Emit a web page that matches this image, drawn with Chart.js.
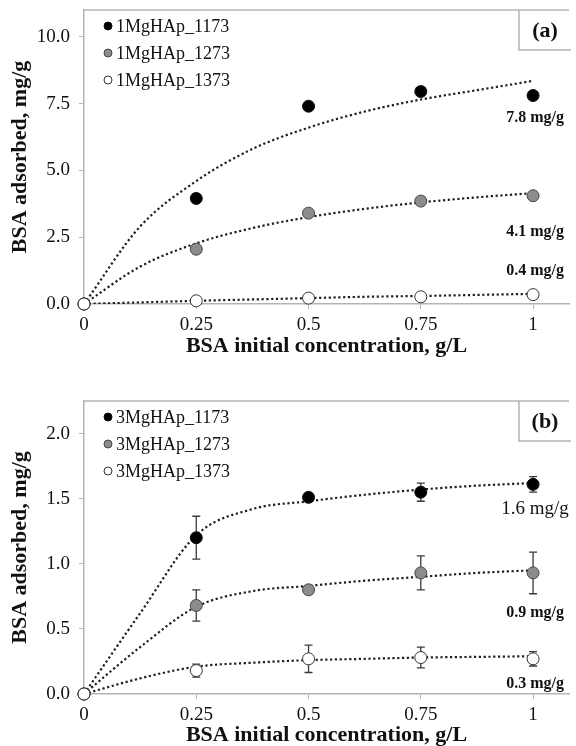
<!DOCTYPE html>
<html>
<head>
<meta charset="utf-8">
<script src="https://cdn.jsdelivr.net/npm/chart.js@4.4.0/dist/chart.umd.min.js"></script>
<style>
    html, body { margin: 0; padding: 0; background: #fff; }
    canvas { display: block; }
</style>
</head>
<body>
<canvas id="chartA" width="576" height="372"></canvas>
<canvas id="chartB" width="576" height="374"></canvas>
<script>
// shared x values
const concentrations = [0, 0.25, 0.5, 0.75, 1];
const fitConcentrations = [0, 0.125, 0.25, 0.375, 0.5, 0.625, 0.75, 0.875, 1];
const xTickValues = [0, 0.25, 0.5, 0.75, 1];

// panel (a)
const namesA = ['1MgHAp_1173', '1MgHAp_1273', '1MgHAp_1373'];
const adsorbedA1173 = [0, 3.95, 7.4, 7.95, 7.8];
const adsorbedA1273 = [0, 2.05, 3.4, 3.85, 4.05];
const adsorbedA1373 = [0, 0.12, 0.22, 0.27, 0.35];
const errorA1173 = [0, 0.15, 0, 0, 0];
const errorA1273 = [0, 0, 0, 0, 0.1];
const errorA1373 = [0, 0, 0, 0, 0];
const fitA1173 = [0, 2.9, 4.6, 5.8, 6.6, 7.2, 7.65, 8.0, 8.35];
const fitA1273 = [0, 1.4, 2.27, 2.84, 3.25, 3.56, 3.8, 3.99, 4.15];
const fitA1373 = [0, 0.06, 0.12, 0.17, 0.22, 0.27, 0.3, 0.34, 0.38];
const capacityLabelsA = ['7.8 mg/g', '4.1 mg/g', '0.4 mg/g'];
const yTicksA = [0, 2.5, 5, 7.5, 10];

// panel (b)
const namesB = ['3MgHAp_1173', '3MgHAp_1273', '3MgHAp_1373'];
const adsorbedB1173 = [0, 1.2, 1.51, 1.55, 1.61];
const adsorbedB1273 = [0, 0.68, 0.8, 0.93, 0.93];
const adsorbedB1373 = [0, 0.18, 0.27, 0.28, 0.27];
const errorB1173 = [0, 0.165, 0.03, 0.07, 0.06];
const errorB1273 = [0, 0.12, 0.03, 0.13, 0.16];
const errorB1373 = [0, 0.05, 0.105, 0.08, 0.055];
const fitB1173 = [0, 0.62, 1.22, 1.42, 1.48, 1.53, 1.57, 1.6, 1.62];
const fitB1273 = [0, 0.36, 0.67, 0.79, 0.83, 0.87, 0.9, 0.93, 0.95];
const fitB1373 = [0, 0.12, 0.21, 0.24, 0.26, 0.27, 0.28, 0.285, 0.29];
const capacityLabelsB = ['1.6 mg/g', '0.9 mg/g', '0.3 mg/g'];
const yTicksB = [0, 0.5, 1, 1.5, 2];

const SERIF = '"Liberation Serif", "Times New Roman", serif';
const AXIS_GREY = '#b4b4b4';
const markerStyles = [
    { fill: '#000000', stroke: '#111111' },
    { fill: '#8c8c8c', stroke: '#454545' },
    { fill: '#ffffff', stroke: '#333333' }
];

const toPoints = (xs, ys) => xs.map((x, i) => ({ x, y: ys[i] }));

// error bars, drawn under the markers
const errorBarPlugin = {
    id: 'errorBars',
    beforeDatasetsDraw(chart) {
        const { ctx, scales: { x, y } } = chart;
        ctx.save();
        ctx.strokeStyle = '#3a3a3a';
        ctx.lineWidth = 1.3;
        chart.data.datasets.forEach(ds => {
            if (!ds.errors) return;
            ds.data.forEach((p, i) => {
                const err = ds.errors[i];
                if (!err) return;
                const px = x.getPixelForValue(p.x);
                const top = y.getPixelForValue(p.y + err);
                const bottom = y.getPixelForValue(p.y - err);
                ctx.beginPath();
                ctx.moveTo(px, top); ctx.lineTo(px, bottom);
                ctx.moveTo(px - 4, top); ctx.lineTo(px + 4, top);
                ctx.moveTo(px - 4, bottom); ctx.lineTo(px + 4, bottom);
                ctx.stroke();
            });
        });
        ctx.restore();
    }
};

// top border, legend, panel tag and capacity notes
const decorPlugin = {
    id: 'decor',
    afterDraw(chart, args, opts) {
        const { ctx, chartArea: area, scales: { x, y } } = chart;
        ctx.save();
        ctx.strokeStyle = AXIS_GREY;
        ctx.lineWidth = 1.5;
        ctx.beginPath();
        ctx.moveTo(area.left, area.top);
        ctx.lineTo(area.right, area.top);
        ctx.stroke();

        // panel tag box
        ctx.beginPath();
        ctx.moveTo(area.right + 2, area.top + 40);
        ctx.lineTo(area.right - 50, area.top + 40);
        ctx.lineTo(area.right - 50, area.top);
        ctx.stroke();
        ctx.fillStyle = '#111';
        ctx.font = 'bold 22px ' + SERIF;
        ctx.textAlign = 'center';
        ctx.textBaseline = 'middle';
        ctx.fillText(opts.tag, area.right - 24, area.top + 21);

        // legend
        const pointSets = chart.data.datasets.filter(ds => ds.pointRadius > 0);
        ctx.font = '18px ' + SERIF;
        ctx.textAlign = 'left';
        pointSets.forEach((ds, i) => {
            const cy = area.top + 16 + i * 27;
            ctx.beginPath();
            ctx.arc(area.left + 24, cy, 4, 0, Math.PI * 2);
            ctx.fillStyle = ds.pointBackgroundColor;
            ctx.fill();
            ctx.lineWidth = 1;
            ctx.strokeStyle = ds.pointBorderColor;
            ctx.stroke();
            ctx.fillStyle = '#111';
            ctx.fillText(ds.label, area.left + 32, cy + 1);
        });

        // capacity notes at the last point of each series
        ctx.textAlign = 'center';
        pointSets.forEach((ds, i) => {
            const last = ds.data[ds.data.length - 1];
            const note = opts.notes[i];
            ctx.font = note.font + ' ' + SERIF;
            ctx.fillText(note.text, x.getPixelForValue(last.x) + 2, y.getPixelForValue(last.y) + note.dy);
        });
        ctx.restore();
    }
};

const buildDatasets = (names, values, errors, fits) => {
    const pointSets = names.map((name, i) => ({
        label: name,
        data: toPoints(concentrations, values[i]),
        errors: errors[i],
        showLine: false,
        clip: false,
        pointRadius: 6,
        pointHoverRadius: 6,
        pointBackgroundColor: markerStyles[i].fill,
        pointBorderColor: markerStyles[i].stroke,
        pointBorderWidth: 1,
        order: names.length - 1 - i
    }));
    const fitSets = fits.map(fit => ({
        label: 'fit',
        data: toPoints(fitConcentrations, fit),
        showLine: true,
        pointRadius: 0,
        borderColor: '#1e1e1e',
        borderWidth: 2.2,
        borderDash: [2.2, 2.6],
        cubicInterpolationMode: 'monotone',
        fill: false,
        order: 5
    }));
    return [...pointSets, ...fitSets];
};

const buildChart = (canvasId, datasets, cfg) => new Chart(document.getElementById(canvasId), {
    type: 'line',
    data: { datasets },
    plugins: [errorBarPlugin, decorPlugin],
    options: {
        responsive: false,
        animation: false,
        layout: { padding: { top: cfg.padTop, left: 6.8, right: 0, bottom: cfg.padBottom } },
        plugins: {
            legend: { display: false },
            tooltip: { enabled: false },
            decor: { tag: cfg.tag, notes: cfg.notes }
        },
        scales: {
            x: {
                type: 'linear',
                min: 0,
                max: 1.08,
                afterBuildTicks: scale => { scale.ticks = xTickValues.map(value => ({ value })); },
                afterFit: scale => {
                    scale.height = cfg.xHeight;
                    scale.paddingLeft = 0;
                    scale.paddingRight = 0;
                },
                ticks: {
                    color: '#111',
                    font: { family: SERIF, size: 19 },
                    padding: 5,
                    maxRotation: 0,
                    callback: v => String(v)
                },
                grid: { drawOnChartArea: false, drawTicks: true, tickLength: 5, color: AXIS_GREY },
                border: { color: AXIS_GREY, width: 1.5 },
                title: {
                    display: true,
                    text: 'BSA initial concentration, g/L',
                    color: '#111',
                    padding: 0,
                    font: { family: SERIF, size: 22, weight: 'bold', lineHeight: 1 }
                }
            },
            y: {
                min: 0,
                max: cfg.yMax,
                afterBuildTicks: scale => { scale.ticks = cfg.yTicks.map(value => ({ value })); },
                afterFit: scale => {
                    scale.width = 77.2;
                    scale.paddingTop = 0;
                    scale.paddingBottom = 0;
                },
                ticks: {
                    color: '#111',
                    font: { family: SERIF, size: 19 },
                    padding: 9,
                    callback: v => v.toFixed(1)
                },
                grid: { drawOnChartArea: false, drawTicks: true, tickLength: 5, color: AXIS_GREY },
                border: { color: AXIS_GREY, width: 1.5 },
                title: {
                    display: true,
                    text: 'BSA adsorbed, mg/g',
                    color: '#111',
                    padding: 0,
                    font: { family: SERIF, size: 22, weight: 'bold', lineHeight: 1.2 }
                }
            }
        }
    }
});

buildChart('chartA',
    buildDatasets(namesA,
        [adsorbedA1173, adsorbedA1273, adsorbedA1373],
        [errorA1173, errorA1273, errorA1373],
        [fitA1173, fitA1273, fitA1373]),
    {
        tag: '(a)', yMax: 11, yTicks: yTicksA,
        padTop: 10, padBottom: 15, xHeight: 53,
        notes: [
            { text: capacityLabelsA[0], font: 'bold 16px', dy: 22 },
            { text: capacityLabelsA[1], font: 'bold 16px', dy: 36 },
            { text: capacityLabelsA[2], font: 'bold 16px', dy: -24 }
        ]
    });

buildChart('chartB',
    buildDatasets(namesB,
        [adsorbedB1173, adsorbedB1273, adsorbedB1373],
        [errorB1173, errorB1273, errorB1373],
        [fitB1173, fitB1273, fitB1373]),
    {
        tag: '(b)', yMax: 2.25, yTicks: yTicksB,
        padTop: 29, padBottom: 0, xHeight: 52,
        notes: [
            { text: capacityLabelsB[0], font: '19px', dy: 25 },
            { text: capacityLabelsB[1], font: 'bold 16px', dy: 40 },
            { text: capacityLabelsB[2], font: 'bold 16px', dy: 25 }
        ]
    });
</script>
</body>
</html>
